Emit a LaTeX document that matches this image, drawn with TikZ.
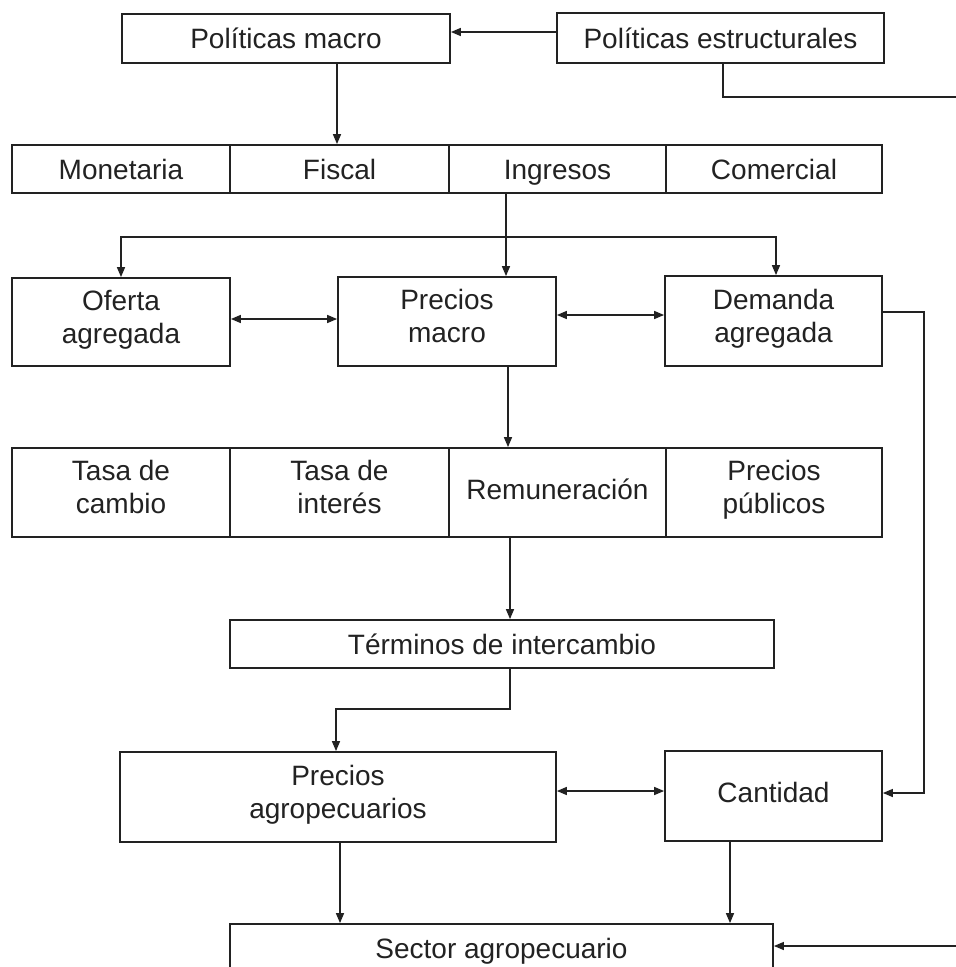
\documentclass[tikz,border=0pt]{standalone}
\usepackage{fontspec}
\setmainfont{Liberation Sans}
\usetikzlibrary{arrows.meta}
\definecolor{ink}{HTML}{222222}
\newcommand{\sA}{\rule[-7pt]{0pt}{34pt}}
\newcommand{\sB}{\rule[-12pt]{0pt}{33pt}}
\tikzset{
  box/.style={draw=ink, line width=1.8pt, rectangle, inner sep=0pt, align=center,
    font=\fontsize{28}{33}\selectfont, text=ink},
  conn/.style={draw=ink, line width=1.5pt},
  arr/.style={conn, -{Triangle[length=10pt,width=8pt]}},
  darr/.style={conn, {Triangle[length=10pt,width=8pt]}-{Triangle[length=10pt,width=8pt]}}
}
\begin{document}
\begin{tikzpicture}[x=1pt,y=-1pt]
\clip (0,0) rectangle (956,967);
\fill[white] (0,0) rectangle (956,967);
% top
\node[box, minimum width=328, minimum height=49] (pmacro) at (286,38.5) {\sA Políticas macro};
\node[box, minimum width=327, minimum height=50] (pestr) at (720.5,38) {\sA Políticas estructurales};
% row 1
\node[box, minimum width=218, minimum height=48] (mon) at (121,169) {\sA Monetaria};
\node[box, minimum width=219, minimum height=48] (fis) at (339.5,169) {\sA Fiscal};
\node[box, minimum width=217, minimum height=48] (ing) at (557.5,169) {\sA Ingresos};
\node[box, minimum width=216, minimum height=48] (com) at (774,169) {\sA Comercial};
% row of aggregates
\node[box, minimum width=218, minimum height=88] (ofe) at (121,322) {\sB Oferta\\\sB agregada};
\node[box, minimum width=218, minimum height=89] (pmac) at (447,321.5) {\sB Precios\\\sB macro};
\node[box, minimum width=217, minimum height=90] (dem) at (773.5,321) {\sB Demanda\\\sB agregada};
% row 2
\node[box, minimum width=218, minimum height=89] (tca) at (121,492.5) {\sB Tasa de\\\sB cambio};
\node[box, minimum width=219, minimum height=89] (tin) at (339.5,492.5) {\sB Tasa de\\\sB interés};
\node[box, minimum width=217, minimum height=89] (rem) at (557.5,492.5) {\strut Remuneración};
\node[box, minimum width=216, minimum height=89] (ppu) at (774,492.5) {\sB Precios\\\sB públicos};
% lower
\node[box, minimum width=544, minimum height=48] (term) at (502,644) {\sA Términos de intercambio};
\node[box, minimum width=436, minimum height=90] (pagro) at (338,797) {\sB Precios\\\sB agropecuarios};
\node[box, minimum width=217, minimum height=90] (cant) at (773.5,796) {\strut Cantidad};
\node[box, minimum width=543, minimum height=48] (sector) at (501.5,948) {\sA Sector agropecuario};
% free ends at the right edge
\coordinate (eR1) at (956,97);
\coordinate (eR2) at (956,946);
\coordinate (j1) at (506,237);
% connectors
\draw[arr] (pestr.west |- 0,32) -- (pmacro.east |- 0,32);
\draw[conn] (pestr.south -| 723,0) |- (eR1);
\draw[arr] (pmacro.south -| 337,0) -- (fis.north -| 337,0);
\draw[arr] (ing.south -| 506,0) -- (pmac.north -| 506,0);
\draw[arr] (j1) -| (ofe.north);
\draw[arr] (j1) -| (dem.north -| 776,0);
\draw[darr] (ofe.east |- 0,319) -- (pmac.west |- 0,319);
\draw[darr] (pmac.east |- 0,315) -- (dem.west |- 0,315);
\draw[arr] (dem.east |- 0,312) -- (924,312) |- (cant.east |- 0,793);
\draw[arr] (pmac.south -| 508,0) -- (rem.north -| 508,0);
\draw[arr] (rem.south -| 510,0) -- (term.north -| 510,0);
\draw[arr] (term.south -| 510,0) |- (336,709) -- (pagro.north -| 336,0);
\draw[darr] (pagro.east |- 0,791) -- (cant.west |- 0,791);
\draw[arr] (pagro.south -| 340,0) -- (sector.north -| 340,0);
\draw[arr] (cant.south -| 730,0) -- (sector.north -| 730,0);
\draw[arr] (eR2) -- (sector.east |- eR2);
\end{tikzpicture}
\end{document}
